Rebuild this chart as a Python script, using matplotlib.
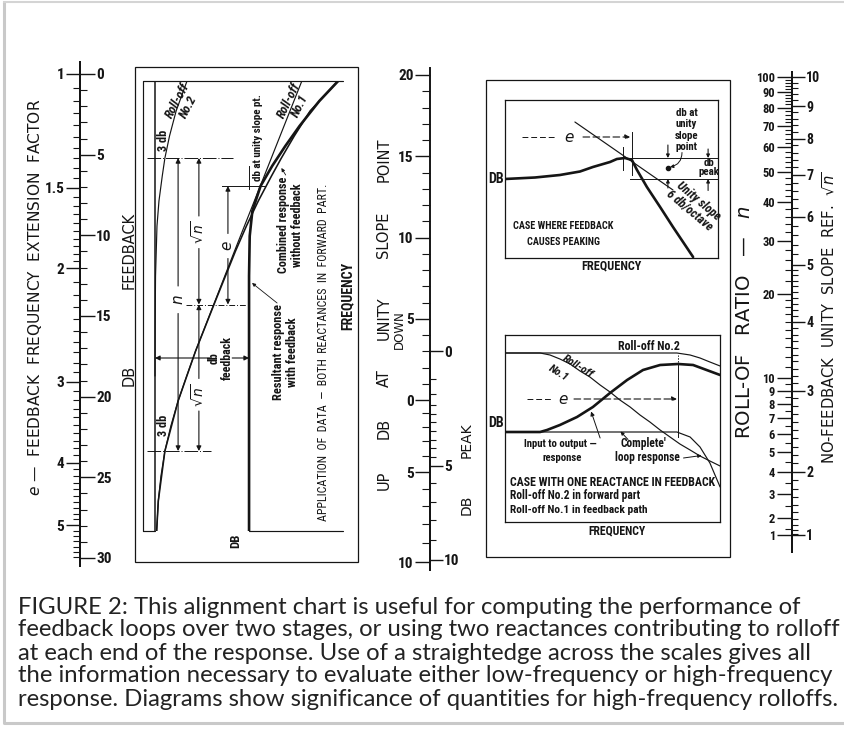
import numpy as np
import matplotlib
matplotlib.use('Agg')
import matplotlib.pyplot as plt
from matplotlib import font_manager as fm
from matplotlib.patches import Rectangle

# ------------------------------------------------------------------ data
# left scale: feedback (dB) and frequency extension factor e
feedback_db_major = [0, 5, 10, 15, 20, 25, 30]
feedback_db_minor = list(range(0, 31))
ext_major = [1, 1.5, 2, 3, 4, 5]
ext_major_labels = ['1', '1.5', '2', '3', '4', '5']
ext_minor = list(np.round(np.arange(1.0, 2.0, 0.05), 2)) + list(np.round(np.arange(2.0, 5.65, 0.1), 2))

# middle scale: db at unity slope point (negative = down, positive = up) and db peak
unity_major = [-20, -15, -10, -5, 0, 5, 10]
unity_minor = list(range(-20, 11))
peak_major = [0, 5, 10]
peak_minor = list(np.arange(0, 5.01, 0.5)) + [6, 7, 8, 9, 10]

# right scale: roll-off ratio n and sqrt(n)
ratio_major = [1, 2, 3, 4, 5, 6, 7, 8, 9, 10, 20, 30, 40, 50, 60, 70, 80, 90, 100]
ratio_minor = [1.5, 2.5, 3.5, 4.5, 5.5, 6.5, 7.5, 8.5, 9.5] + list(range(11, 20)) + list(range(22, 100, 2))
sqrt_major = [1, 2, 3, 4, 5, 6, 7, 8, 9, 10]
sqrt_minor = list(np.round(np.arange(1.1, 5.0, 0.1), 1)) + list(np.round(np.arange(5.2, 10.0, 0.2), 1))

# left diagram (DB attenuation vs octaves above roll-off No.1 corner)
r1_oct = [-1.6, -1.0, -0.5, 0, 0.5, 1, 1.5, 2, 3, 4, 5, 6, 7, 7.4]
r1_db = [0.5, 1.0, 1.8, 3.0, 4.8, 7.0, 9.6, 12.3, 18.2, 24.1, 30.1, 36.1, 42.1, 44.5]
r2_oct = [1.5, 2.5, 3.5, 4.5, 5.0, 5.5, 5.86, 6.3, 6.8, 7.4]
r2_db = [0.0, 0.05, 0.16, 0.6, 1.2, 2.2, 3.0, 4.4, 6.4, 9.7]
comb_oct = [-1.6, -1, 0, 1, 2, 3, 4, 4.5, 5, 5.5, 5.86, 6.3, 6.8, 7.4]
comb_db = [0.5, 1.0, 3.0, 7.0, 12.3, 18.3, 24.4, 27.7, 31.3, 35.3, 38.3, 42.2, 47.0, 55.5]
fbk_oct = [-1.6, 3.5, 4.3, 4.8, 5.3, 5.7, 6.1, 6.5, 7.0, 7.4]
fbk_db = [28.5, 28.5, 28.7, 29.5, 32.0, 35.5, 39.5, 43.8, 49.8, 55.5]
corner1, corner2, mid_f, unity_f, fb_level = 0.0, 5.86, 2.93, 5.3, 28.5

# peaking diagram (octaves, dB)
pk_oct = [0, 1.0, 1.83, 2.5, 2.93, 3.5, 3.73, 4.0, 4.23, 4.4, 4.73, 5.17, 5.6, 6.27]
pk_db = [0, 0.6, 1.6, 3.0, 4.8, 6.8, 8.0, 8.4, 7.6, 3.6, -3.2, -11.2, -19.2, -31.2]
slope_oct = [2.33, 5.6]
slope_db = [22.8, -4.4]

# one-reactance diagram (octaves, dB)
b2_oct = [0, 5.73, 6.17, 6.5, 6.83, 7.17]
b2_db = [31.6, 31.6, 30.8, 29.6, 28.0, 26.4]
b1_oct = [0, 1.17, 1.5, 1.83, 2.17, 2.5, 2.83, 3.17, 3.5, 3.83, 4.17, 4.5, 4.83, 5.17, 5.5, 5.83, 6.17, 6.5, 6.83, 7.17]
b1_db = [31.6, 31.6, 30.8, 29.2, 27.2, 24.4, 22.0, 18.8, 16.0, 12.8, 10.0, 6.8, 4.0, 0.8, -2.0, -4.8, -7.2, -9.6, -11.6, -13.6]
io_oct = [0, 1.17, 1.4, 1.83, 2.4, 2.93, 3.5, 4.07, 4.6, 5.17, 5.77, 6.27, 7.17]
io_db = [0, 0, 0.8, 2.8, 6.0, 10.0, 15.6, 20.8, 24.8, 26.8, 27.2, 26.8, 22.8]
loop_oct = [0, 5.73, 6.17, 6.5, 6.83, 7.17]
loop_db = [0, 0, -2.0, -6.0, -12.4, -22.0]

caption = [
    "FIGURE 2: This alignment chart is useful for computing the performance of",
    "feedback loops over two stages, or using two reactances contributing to rolloff",
    "at each end of the response. Use of a straightedge across the scales gives all",
    "the information necessary to evaluate either low-frequency or high-frequency",
    "response. Diagrams show significance of quantities for high-frequency rolloffs.",
]

# ------------------------------------------------------------------ style
ents = fm.fontManager.ttflist
names = {f.name for f in ents}


def has_cond(name):
    return any(f.name == name and str(f.stretch) in ('condensed', 'semi-condensed', 'extra-condensed')
               for f in ents)


NAR = None
for nm in ['Liberation Sans Narrow', 'Roboto Condensed', 'Noto Sans Condensed', 'Open Sans Condensed',
           'DejaVu Sans Condensed']:
    if nm in names:
        NAR = dict(family=nm)
        break
if NAR is None:
    for nm in ['DejaVu Sans', 'Noto Sans', 'Open Sans', 'Roboto']:
        if has_cond(nm):
            NAR = dict(family=nm, stretch='condensed')
            break
if NAR is None:
    NAR = dict(family='Roboto' if 'Roboto' in names else 'DejaVu Sans')

CAPFAM = 'Lato' if 'Lato' in names else ('Roboto' if 'Roboto' in names else 'DejaVu Sans')
TITLE = dict(family='DejaVu Sans')
INK = '#151515'
W, H = 845, 740

fig = plt.figure(figsize=(W / 100, H / 100), dpi=100)
fig.patch.set_facecolor('white')
renderer = fig.canvas.get_renderer()


def px_axes(x0, y0, x1, y1):
    ax = fig.add_axes([x0 / W, 1 - y1 / H, (x1 - x0) / W, (y1 - y0) / H])
    ax.patch.set_alpha(0)
    return ax


def fit(t, target):
    """scale font so that the text (measured unrotated) is `target` px long"""
    rot = t.get_rotation()
    t.set_rotation(0)
    bb = t.get_window_extent(renderer)
    t.set_fontsize(t.get_fontsize() * target / bb.width)
    t.set_rotation(rot)
    return t


bg = px_axes(0, 0, W, H)
bg.set_xlim(0, W)
bg.set_ylim(H, 0)
bg.axis('off')

# page frame
bg.plot([4, 4, W + 5], [2, 723, 723], color='#c9c9c9', lw=2.2, solid_capstyle='butt')
bg.plot([4, W + 5], [2, 2], color='#d4d4d4', lw=1.5)


def scale_axes(x0, y0, x1, y1, side, maj=10, mnr=5.0):
    ax = px_axes(x0, y0, x1, y1)
    for s in ax.spines:
        ax.spines[s].set_visible(s == side)
    ax.spines[side].set_linewidth(1.4)
    ax.spines[side].set_color(INK)
    ax.xaxis.set_visible(False)
    ax.yaxis.set_ticks_position(side)
    ax.tick_params(axis='y', which='both', direction='out', color=INK, labelcolor=INK)
    ax.tick_params(axis='y', which='major', length=maj, width=1.0, pad=1.2)
    ax.tick_params(axis='y', which='minor', length=mnr, width=0.8)
    return ax


NUM = dict(fontweight='bold', fontsize=11, **NAR)
NUMS = dict(fontweight='bold', fontsize=9, **NAR)

# ---------------- left scale
DB0, DBK = 74.0, 16.133
y_top, y_bot = 62, 566
axDB = scale_axes(40, y_top, 80, y_bot, 'right', maj=10.5, mnr=5)
axDB.set_ylim((y_bot - DB0) / DBK, (y_top - DB0) / DBK)
axDB.set_yticks(feedback_db_major, [str(v) for v in feedback_db_major], **NUM)
axDB.set_yticks(feedback_db_minor, minor=True)


def e_fwd(e):
    e = np.asarray(e, float)
    return 40 * np.log10(np.maximum(e, 1e-6))


def e_inv(d):
    return 10 ** (np.asarray(d, float) / 40)


axE = scale_axes(80, y_top, 120, y_bot, 'left', maj=10, mnr=5)
axE.set_yscale('function', functions=(e_fwd, e_inv))
axE.set_ylim(e_inv((y_bot - DB0) / DBK), e_inv((y_top - DB0) / DBK))
axE.set_yticks(ext_major, ext_major_labels, **NUM)
axE.set_yticks(ext_minor, minor=True)

# ---------------- middle scale
U0 = 400.0


def u_fwd(s):
    s = np.asarray(s, float)
    return np.where(s <= 0, 16.25 * s, 12.6 * s + 0.36 * s * s)


def u_inv(f):
    f = np.asarray(f, float)
    up = (-12.6 + np.sqrt(np.maximum(12.6 ** 2 + 1.44 * f, 0))) / 0.72
    return np.where(f <= 0, f / 16.25, up)


def p_to_u(p):
    p = np.maximum(np.asarray(p, float), 0)
    q = 10 ** (-p / 10)
    z2 = (1 - np.sqrt(np.maximum(1 - q, 0))) / 2
    return -10 * np.log10(4 * z2)


def u_to_p(u):
    u = np.maximum(np.asarray(u, float), -10 * np.log10(2))
    z2 = np.minimum((0.5 * 10 ** (-u / 20)) ** 2, 0.5)
    return -10 * np.log10(4 * z2 * (1 - z2))


mid_top, mid_bot = 68, 570
axU = scale_axes(430, mid_top, 470, mid_bot, 'left', maj=10.5, mnr=5.5)
axU.set_yscale('function', functions=(u_fwd, u_inv))
axU.set_ylim(float(u_inv(mid_bot - U0)), float(u_inv(mid_top - U0)))
axU.set_yticks(unity_major, [str(abs(v)) for v in unity_major], **NUM)
axU.set_yticks(unity_minor, minor=True)

p_top = U0 + float(u_fwd(p_to_u(0.0)))
axP = scale_axes(390, p_top, 430, mid_bot, 'right', maj=9, mnr=4.5)
axP.set_yscale('function', functions=(lambda p: u_fwd(p_to_u(p)), lambda f: u_to_p(u_inv(f))))
axP.set_ylim(float(u_to_p(u_inv(mid_bot - U0))), 0.0)
axP.set_yticks(peak_major, [str(v) for v in peak_major], **NUM)
axP.set_yticks(peak_minor, minor=True)

# ---------------- right scale
L4 = np.log10(4.0)


def n_fwd(n):
    n = np.maximum(np.asarray(n, float), 1e-9)
    g = np.log10((1 + n) ** 2 / n)
    return np.where(n >= 1, g, 2 * L4 - g)


def n_inv(f):
    f = np.asarray(f, float)
    ff = np.where(f >= L4, f, 2 * L4 - f)
    t = 10 ** ff - 2
    r = np.sqrt(np.maximum(t * t - 4, 0))
    return np.where(f >= L4, (t + r) / 2, (t - r) / 2)


N1, NA = 535.0, 458.0 / (float(n_fwd(100)) - L4)
r_top, r_bot = 72, 552
f_top = L4 + (N1 - r_top) / NA
f_bot = L4 + (N1 - r_bot) / NA
axN = scale_axes(792, r_top, 832, r_bot, 'left', maj=11, mnr=5)
axN.set_yscale('function', functions=(n_fwd, n_inv))
axN.set_ylim(float(n_inv(f_bot)), float(n_inv(f_top)))
axN.set_yticks(ratio_major, [str(v) for v in ratio_major], **NUMS)
axN.set_yticks(ratio_minor, minor=True)

axR = scale_axes(752, r_top, 792, r_bot, 'right', maj=9, mnr=4.5)
axR.set_yscale('function', functions=(lambda r: n_fwd(np.asarray(r, float) ** 2),
                                      lambda f: np.sqrt(n_inv(f))))
axR.set_ylim(float(np.sqrt(n_inv(f_bot))), float(np.sqrt(n_inv(f_top))))
axR.set_yticks(sqrt_major, [str(v) for v in sqrt_major], **dict(NUMS, fontsize=10))
axR.set_yticks(sqrt_minor, minor=True)

# ---------------- scale titles
TT = dict(rotation=90, ha='center', va='center', color=INK, fontsize=10.5, **TITLE)
fit(bg.text(35, 297, r'$e$ —  FEEDBACK  FREQUENCY  EXTENSION  FACTOR', **TT), 400)
bg.text(129, 250, 'FEEDBACK', **TT)
bg.text(129, 375, 'DB', **TT)
for wd, yy in [('POINT', 160), ('SLOPE', 235), ('UNITY', 318), ('AT', 378), ('DB', 428), ('UP', 480)]:
    bg.text(384, yy, wd, **TT)
bg.text(399, 330, 'DOWN', **dict(TT, fontsize=8.5))
bg.text(467, 440, 'PEAK', **dict(TT, fontsize=10))
bg.text(467, 505, 'DB', **dict(TT, fontsize=10))
fit(bg.text(745, 322, r'ROLL-OF   RATIO   —   $n$', **TT), 235)
fit(bg.text(829, 318, r'NO-FEEDBACK  UNITY  SLOPE  REF.  $\sqrt{n}$', **TT), 295)

# ---------------- helpers for diagrams
TXT = dict(color=INK, fontweight='bold', **NAR)


def arrow(ax, x0, y0, x1, y1, style='-|>', lw=0.8, ms=7, **kw):
    ax.annotate('', xy=(x1, y1), xytext=(x0, y0),
                arrowprops=dict(arrowstyle=style, color=INK, lw=lw, shrinkA=0, shrinkB=0,
                                mutation_scale=ms, **kw))


THIN = dict(color=INK, lw=0.85, solid_capstyle='round')
THICK = dict(color=INK, lw=1.9, solid_capstyle='round')
LT = dict(TXT, fontsize=9)

# ---------------- left diagram
bg.add_patch(Rectangle((135, 67), 223, 495, fill=False, ec=INK, lw=0.9))
axL = px_axes(143, 81, 343, 531)
xl0, xl1 = -12 / 3.3, 188 / 3.3
yl0, yl1 = -80 / 50, 370 / 50
axL.set_xlim(xl0, xl1)
axL.set_ylim(yl0, yl1)
axL.axis('off')
axL.plot([xl0, xl0, xl1], [yl0, yl1, yl1], **THIN, clip_on=False)
axL.plot([xl0, 0], [yl0, yl0], **THIN, clip_on=False)
axL.plot([fb_level, xl1], [yl0, yl0], **THIN, clip_on=False)
axL.plot([0, 0], [yl0, yl1], color=INK, lw=1.1)
axL.plot(r1_db, r1_oct, **THIN)
axL.plot(r2_db, r2_oct, **THIN)
axL.plot(comb_db, comb_oct, color=INK, lw=1.15)
axL.plot(fbk_db, fbk_oct, **THICK)
# reference lines
axL.plot([-2.4, 23.5], [corner2, corner2], color=INK, lw=0.7, ls=(0, (14, 2, 1, 2)))
axL.plot([-2.4, 17.0], [corner1, corner1], color=INK, lw=0.7, ls=(0, (14, 2, 1, 2)))
axL.plot([9.5, 27.5], [mid_f, mid_f], color=INK, lw=0.7, ls=(0, (6, 2, 1, 2)))
axL.plot([20.3, 33.3], [unity_f, unity_f], color=INK, lw=0.7)
axL.plot([fb_level, fb_level], [unity_f - 0.05, unity_f + 0.4], color=INK, lw=0.7)
# brackets
for x, a, b, gap in [(7.0, corner1, corner2, (2.75, 3.3)),
                     (13.3, mid_f, corner2, (4.05, 4.7)),
                     (13.3, corner1, mid_f, (0.8, 1.45)),
                     (22.1, mid_f, unity_f, (3.85, 4.35))]:
    arrow(axL, x, gap[0], x, a)
    arrow(axL, x, gap[1], x, b)
arrow(axL, 16.6, 1.86, 0, 1.86)
arrow(axL, 23.4, 1.86, fb_level, 1.86)
axL.text(7.0, 3.02, r'$n$', ha='center', va='center', fontsize=11, color=INK, rotation=90)
axL.text(13.3, 4.38, r'$\sqrt{n}$', ha='center', va='center', fontsize=10, color=INK, rotation=90)
axL.text(13.3, 1.12, r'$\sqrt{n}$', ha='center', va='center', fontsize=10, color=INK, rotation=90)
axL.text(22.1, 4.1, r'$e$', ha='center', va='center', fontsize=11, color=INK, rotation=90)
fit(axL.text(20.0, 1.86, 'db\nfeedback', ha='center', va='center', rotation=90, linespacing=1.0, **LT), 44)
fit(axL.text(2.7, 6.22, '3 db', ha='center', va='center', rotation=90, **LT), 21)
fit(axL.text(2.7, 0.52, '3 db', ha='center', va='center', rotation=90, **LT), 21)
fit(axL.text(8.6, 6.95, 'Roll-off\nNo.2', ha='center', va='center', rotation=62, linespacing=0.95,
             **dict(LT, style='italic')), 38)
fit(axL.text(42.2, 6.95, 'Roll-off\nNo.1', ha='center', va='center', rotation=64, linespacing=0.95,
             **dict(LT, style='italic')), 38)
fit(axL.text(31.3, 6.26, 'db at unity slope pt.', ha='center', va='center', rotation=90, **LT), 88)
fit(axL.text(41.0, 4.52, 'Combined response\nwithout feedback', ha='center', va='center',
             rotation=90, linespacing=1.05, **LT), 96)
arrow(axL, 39.6, 5.52, 38.3, 5.66, lw=0.6, ms=5)
fit(axL.text(39.6, 1.98, 'Resultant response\nwith feedback', ha='center', va='center',
             rotation=90, linespacing=1.05, **LT), 96)
arrow(axL, 37.0, 2.96, 29.4, 3.36, lw=0.6, ms=5)
fit(bg.text(324, 352, 'APPLICATION  OF  DATA  —  BOTH  REACTANCES  IN  FORWARD  PART.',
            rotation=90, ha='center', va='center', **dict(TXT, fontsize=9, fontweight='normal')), 335)
fit(bg.text(347, 296, 'FREQUENCY', rotation=90, ha='center', va='center', **dict(TXT, fontsize=8.5)), 68)
fit(bg.text(236, 541, 'DB', rotation=90, ha='center', va='center', **dict(TXT, fontsize=8.5)), 14)

# ---------------- right diagrams
bg.add_patch(Rectangle((486, 80), 244, 477, fill=False, ec=INK, lw=0.9))

# peaking diagram
axK = px_axes(505, 100, 718, 258)
axK.set_xlim(0, 213 / 30)
axK.set_ylim(-79 / 2.5, 79 / 2.5)
axK.set_xticks([])
axK.set_yticks([])
for s in axK.spines.values():
    s.set_linewidth(0.9)
    s.set_color(INK)
axK.plot(pk_oct, pk_db, **THICK)
axK.plot(slope_oct, slope_db, **THIN)
axK.plot([4.07, 7.1], [8.4, 8.4], color=INK, lw=0.7)
axK.plot([4.17, 7.1], [0, 0], color=INK, lw=0.7)
axK.plot([3.93, 3.93], [3.6, 12.8], color=INK, lw=0.7)
axK.plot([4.23, 4.23], [1.6, 18.8], color=INK, lw=0.7)
axK.plot([0.57, 1.7], [16.8, 16.8], color=INK, lw=0.7, ls=(0, (6, 3)))
arrow(axK, 2.6, 16.8, 4.17, 16.8, ls=(0, (6, 3)))
axK.text(2.15, 16.8, r'$e$', ha='center', va='center', fontsize=11, color=INK)
arrow(axK, 5.43, 13.6, 5.43, 8.4, ms=5)
arrow(axK, 5.43, -3.6, 5.43, 0, ms=5)
arrow(axK, 6.77, 12.0, 6.77, 8.4, ms=5)
arrow(axK, 6.77, -4.6, 6.77, 0, ms=5)
axK.plot([5.43], [4.4], 'o', color=INK, ms=3)
arrow(axK, 5.9, 10.6, 5.5, 4.8, lw=0.7, ms=5, connectionstyle='arc3,rad=-0.4')
KT = dict(TXT, fontsize=8.5)
kts = []
for s_, yy in [('db at', 26.4), ('unity', 22.0), ('slope', 17.2), ('point', 12.6)]:
    kts.append(axK.text(6.05, yy, s_, ha='center', va='center', **KT))
fit(kts[3], 22)
for k in kts:
    k.set_fontsize(kts[3].get_fontsize())
t1 = axK.text(6.8, 6.3, 'db', ha='center', va='center', **KT)
t2 = fit(axK.text(6.8, 2.8, 'peak', ha='center', va='center', **KT), 21)
t1.set_fontsize(t2.get_fontsize())
fit(axK.text(6.3, -10.8, 'Unity slope\n6 db/octave', ha='center', va='center', rotation=-40,
             linespacing=1.0, **dict(KT, style='italic')), 56)
t1 = fit(axK.text(1.95, -18.8, 'CASE WHERE FEEDBACK', ha='center', va='center', **dict(TXT, fontsize=9)), 100)
axK.text(1.95, -25.2, 'CAUSES PEAKING', ha='center', va='center', **dict(TXT, fontsize=t1.get_fontsize()))
fit(axK.text(-0.05, 0, 'DB', ha='right', va='center', clip_on=False, **dict(TXT, fontsize=9)), 16)
fit(axK.text(3.55, -34.9, 'FREQUENCY', ha='center', va='center', clip_on=False, **dict(TXT, fontsize=9)), 60)

# one-reactance diagram
axB = px_axes(505, 335, 720, 522)
axB.set_xlim(0, 215 / 30)
axB.set_ylim(-90 / 2.5, 97 / 2.5)
axB.set_xticks([])
axB.set_yticks([])
for s in axB.spines.values():
    s.set_linewidth(0.9)
    s.set_color(INK)
axB.plot(b2_oct, b2_db, **THIN)
axB.plot(b1_oct, b1_db, **THIN)
axB.plot(loop_oct, loop_db, **THIN)
axB.plot(io_oct, io_db, **THICK)
axB.plot([5.77, 5.77], [-2.0, 27.0], color=INK, lw=0.7)
axB.plot([5.77, 5.77], [27.0, 31.0], color=INK, lw=0.7, ls=(0, (1.5, 1.5)))
axB.plot([0.73, 1.6], [13.2, 13.2], color=INK, lw=0.7, ls=(0, (6, 3)))
arrow(axB, 2.3, 13.2, 5.73, 13.2, ls=(0, (6, 3)))
axB.text(1.95, 13.2, r'$e$', ha='center', va='center', fontsize=11, color=INK)
BT = dict(TXT, fontsize=9)
fit(axB.text(4.8, 34.3, 'Roll-off No.2', ha='center', va='center', **BT), 62)
t1 = fit(axB.text(2.45, 26.2, 'Roll-off', ha='center', va='center', rotation=-32,
                  **dict(BT, style='italic')), 34)
axB.text(1.8, 23.4, 'No.1', ha='center', va='center', rotation=-32,
         **dict(BT, style='italic', fontsize=t1.get_fontsize()))
fit(axB.text(-0.05, 3.6, 'DB', ha='right', va='center', clip_on=False, **BT), 16)
t1 = fit(axB.text(1.85, -4.8, 'Input to output —', ha='center', va='center', **BT), 73)
axB.text(1.9, -10.4, 'response', ha='center', va='center', **dict(BT, fontsize=t1.get_fontsize()))
arrow(axB, 3.17, -2.4, 2.87, 8.2, lw=0.7, ms=6)
t1 = fit(axB.text(4.75, -10.4, 'loop response', ha='center', va='center', **BT), 65)
axB.text(4.62, -4.6, "Complete'", ha='center', va='center', **dict(BT, fontsize=t1.get_fontsize()))
arrow(axB, 4.1, -3.0, 3.85, 0.2, lw=0.7, ms=5)
arrow(axB, 5.95, -10.4, 6.55, -9.4, lw=0.7, ms=5)
fit(axB.text(0.17, -20.4, 'CASE WITH ONE REACTANCE IN FEEDBACK', ha='left', va='center', **BT), 207)
fit(axB.text(0.17, -25.4, 'Roll-off No.2 in forward part', ha='left', va='center', **BT), 130)
fit(axB.text(0.17, -31.2, 'Roll-off No.1 in feedback path', ha='left', va='center', **BT), 138)
fit(axB.text(3.73, -39.6, 'FREQUENCY', ha='center', va='center', clip_on=False, **dict(TXT, fontsize=9)), 58)

# ---------------- caption
cap_y = [607, 630, 653, 676, 699]
cap_w = [807, 825, 794, 820, 825]
texts, sizes = [], []
for s_, yy, ww in zip(caption, cap_y, cap_w):
    t = fit(bg.text(18, yy, s_, ha='left', va='center', color='#232323', fontsize=14,
                    family=CAPFAM, fontweight='normal'), ww)
    texts.append(t)
    sizes.append(t.get_fontsize())
med = float(np.median(sizes))
for t in texts:
    t.set_fontsize(med)

fig.savefig('out.png', dpi=100, facecolor='white')
